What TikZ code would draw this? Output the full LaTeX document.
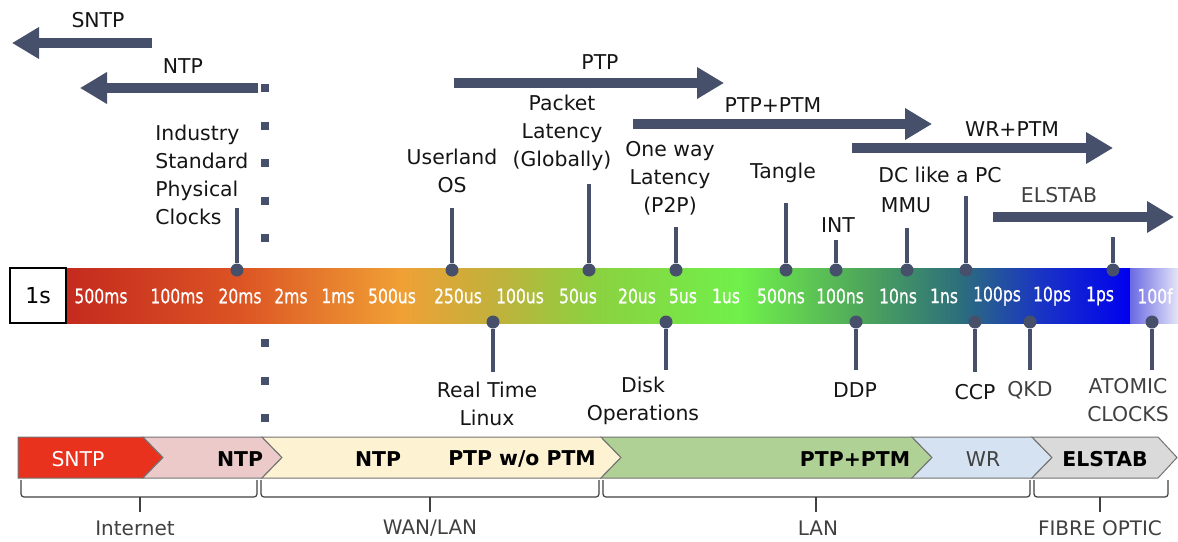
\documentclass[tikz,border=0pt]{standalone}
\usepackage{fontspec}
\setmainfont{DejaVu Sans}
\newfontfamily\tickfont{DejaVu Sans}[FakeStretch=0.78,FakeBold=0.6]
\usetikzlibrary{arrows.meta}
\definecolor{slate}{HTML}{46506A}
\definecolor{txt}{HTML}{151515}
\definecolor{gtxt}{HTML}{404040}
\definecolor{c0}{HTML}{C42A1E}
\definecolor{c1}{HTML}{DC5424}
\definecolor{c2}{HTML}{F0A035}
\definecolor{c3}{HTML}{BFB23C}
\definecolor{c4}{HTML}{8CD040}
\definecolor{c5}{HTML}{70F04A}
\definecolor{c6}{HTML}{4FA85A}
\definecolor{c7}{HTML}{2C6E7C}
\definecolor{c8}{HTML}{1A34C4}
\definecolor{c9}{HTML}{0000F0}
\definecolor{c10}{HTML}{6A6AE4}
\definecolor{c11}{HTML}{E4E4F8}
\definecolor{sntpred}{HTML}{E8321E}
\definecolor{ntppink}{HTML}{ECCACA}
\definecolor{ptpyel}{HTML}{FDF3D2}
\definecolor{ptmgreen}{HTML}{B0D196}
\definecolor{wrblue}{HTML}{D5E2F1}
\definecolor{elgray}{HTML}{DADADA}
\tikzset{
  dotn/.style={circle,fill=slate,inner sep=0pt,minimum size=6.5pt},
  pinline/.style={draw=slate,line width=2pt},
  lbl/.style={align=center,text=txt,inner sep=0pt,font=\fontsize{10.2}{14}\selectfont},
  glbl/.style={lbl,text=gtxt},
  tick/.style={text=white,inner sep=0pt,font=\tickfont\fontsize{10}{10}\selectfont},
  bigarrow/.style={draw=slate,line width=5pt,-{Triangle[length=13.5pt,width=15pt]}},
  bandtxt/.style={inner sep=0pt,font=\bfseries\fontsize{10.2}{12}\selectfont},
  bandtxtr/.style={inner sep=0pt,font=\fontsize{10.2}{12}\selectfont},
  brk/.style={draw=gtxt,line width=0.6pt,rounded corners=1.5pt},
  brklbl/.style={inner sep=0pt,text=gtxt,font=\fontsize{10}{12}\selectfont},
  band/.style={draw=black!55,line width=0.5pt},
}
\begin{document}
\begin{tikzpicture}[x=0.5pt,y=-0.5pt]
\useasboundingbox (0,0) rectangle (1178,541);
% dotted separator
\draw[slate,line width=4pt,dash pattern=on 4pt off 14.75pt] (265,84) -- (265,242);
\draw[slate,line width=4pt,dash pattern=on 4pt off 14.75pt] (265,339) -- (265,422);
% colour bar
\shade[left color=c0,right color=c1] (66,268) rectangle (240.5,323);
\shade[left color=c1,right color=c2] (240,268) rectangle (400.5,323);
\shade[left color=c2,right color=c3] (400,268) rectangle (500.5,323);
\shade[left color=c3,right color=c4] (500,268) rectangle (590.5,323);
\shade[left color=c4,right color=c5] (590,268) rectangle (740.5,323);
\shade[left color=c5,right color=c6] (740,268) rectangle (860.5,323);
\shade[left color=c6,right color=c7] (860,268) rectangle (960.5,323);
\shade[left color=c7,right color=c8] (960,268) rectangle (1040.5,323);
\shade[left color=c8,right color=c9] (1040,268) rectangle (1130.5,323);
\shade[left color=c10,right color=c11] (1130,268) rectangle (1178,323);
\node[draw=black,line width=0.6pt,fill=white,minimum width=28pt,minimum height=27.5pt,inner sep=0pt,font=\fontsize{11}{12}\selectfont] (one) at (38,295.5) {1s};
% tick labels
\foreach \x/\t [count=\i] in {101/500ms,177/100ms,240/20ms,291/2ms,338/1ms,392/500us,458/250us,520/100us,578/50us,637/20us,683/5us,726/1us,781/500ns,840/100ns,898/10ns,944/1ns,997/100ps,1052/10ps,1100/1ps,1155/100f}
  \node[tick] (t\i) at (\x,296) {\t};
% upper pins
\foreach \n/\x/\y in {isp/237/208,uos/452/208,pl/589/184,owl/676/227,tan/786/203,int/836/240,mmu/907/228,dc/966/196,els/1113/237}{
  \node[dotn] (\n) at (\x,270) {};
  \coordinate (\n e) at (\x,\y);
  \draw[pinline] (\n) -- (\n e);
}
% lower pins
\foreach \n/\x/\y in {rtl/493/372,disk/666/370,ddp/856/370,ccp/975/372,qkd/1030/370,atom/1152/370}{
  \node[dotn] (\n) at (\x,322) {};
  \coordinate (\n e) at (\x,\y);
  \draw[pinline] (\n) -- (\n e);
}
% upper labels
\node[lbl,align=left,anchor=west] (lisp) at (155,175) {Industry\\Standard\\Physical\\Clocks};
\node[lbl] (luos) at (452,171) {Userland\\OS};
\node[lbl] (lpl) at (562,133) {Packet\\Latency\\(Globally)};
\node[lbl] (lowl) at (670,178) {One way\\Latency\\(P2P)};
\node[lbl] (ltan) at (783,173) {Tangle};
\node[lbl] (lint) at (838,225) {INT};
\node[lbl] (lmmu) at (906,205) {MMU};
\node[lbl] (ldc) at (940,175) {DC like a PC};
% lower labels
\node[lbl] (lrtl) at (487,404) {Real Time\\Linux};
\node[lbl] (ldisk) at (643,401) {Disk\\Operations};
\node[lbl] (lddp) at (855,390) {DDP};
\node[lbl] (lccp) at (975,392) {CCP};
\node[glbl] (lqkd) at (1030,390) {QKD};
\node[glbl] (latom) at (1128,400) {ATOMIC\\CLOCKS};
% big arrows
\coordinate (sntpA) at (152,43); \coordinate (sntpB) at (12,43);
\coordinate (ntpA) at (258,88); \coordinate (ntpB) at (80,88);
\coordinate (ptpA) at (454,83); \coordinate (ptpB) at (724,83);
\coordinate (ptmA) at (633,124); \coordinate (ptmB) at (932,124);
\coordinate (wrA) at (852,148); \coordinate (wrB) at (1113,148);
\coordinate (elA) at (993,217); \coordinate (elB) at (1174,217);
\draw[bigarrow] (sntpA) -- (sntpB);
\draw[bigarrow] (ntpA) -- (ntpB);
\draw[bigarrow] (ptpA) -- (ptpB);
\draw[bigarrow] (ptmA) -- (ptmB);
\draw[bigarrow] (wrA) -- (wrB);
\draw[bigarrow] (elA) -- (elB);
\node[lbl] (asntp) at (98,20) {SNTP};
\node[lbl] (antp) at (183,66) {NTP};
\node[lbl] (aptp) at (600,62) {PTP};
\node[lbl] (aptm) at (773,105) {PTP+PTM};
\node[lbl] (awr) at (1012,129) {WR+PTM};
\node[glbl] (ael) at (1059,195) {ELSTAB};
% chevron band
\fill[sntpred,band] (18,437) -- (143,437) -- (163,457.5) -- (143,478) -- (18,478) -- cycle;
\fill[ntppink,band] (143,437) -- (262,437) -- (282,457.5) -- (262,478) -- (143,478) -- (163,457.5) -- cycle;
\fill[ptpyel,band] (262,437) -- (601,437) -- (621,457.5) -- (601,478) -- (262,478) -- (282,457.5) -- cycle;
\fill[ptmgreen,band] (601,437) -- (912,437) -- (932,457.5) -- (912,478) -- (601,478) -- (621,457.5) -- cycle;
\fill[wrblue,band] (912,437) -- (1032,437) -- (1052,457.5) -- (1032,478) -- (912,478) -- (932,457.5) -- cycle;
\fill[elgray,band] (1032,437) -- (1158,437) -- (1177,457.5) -- (1158,478) -- (1032,478) -- (1052,457.5) -- cycle;
\node[bandtxtr,text=white] (bsntp) at (78,459) {SNTP};
\node[bandtxt] (bntp1) at (240,459) {NTP};
\node[bandtxt] (bntp2) at (378,459) {NTP};
\node[bandtxt] (bptp) at (522,459) {PTP w/o PTM};
\node[bandtxt] (bptm) at (855,459) {PTP+PTM};
\node[bandtxtr,text=gtxt] (bwr) at (983,459) {WR};
\node[bandtxt] (bel) at (1105,459) {ELSTAB};
% brackets
\foreach \a/\b/\m in {21/257/140,261/599/430,603/1030/816,1034/1168/1100}{
  \draw[brk] (\a,480) -- (\a,497) -- (\b,497) -- (\b,480);
  \draw[brk] (\m,497) -- (\m,512);
}
\node[brklbl] (gint) at (135,528) {Internet};
\node[brklbl] (gwan) at (430,528) {WAN/LAN};
\node[brklbl] (glan) at (818,528) {LAN};
\node[brklbl] (gfib) at (1100,528) {FIBRE OPTIC};
\end{tikzpicture}
\end{document}
